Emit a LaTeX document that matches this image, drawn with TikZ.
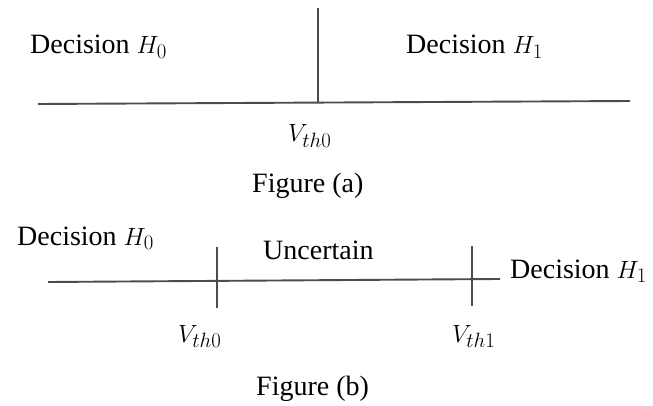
\documentclass[tikz,border=0pt]{standalone}
\usepackage{fontspec}
\setmainfont{Liberation Serif}
\usetikzlibrary{positioning}
\tikzset{
  axisline/.style={line width=1.9pt, black!70},
  lbl/.style={inner sep=0pt, anchor=base west, font=\fontsize{28}{32}\selectfont}
}

\begin{document}
\begin{tikzpicture}[x=1pt,y=-1pt]
            \useasboundingbox (0,0) rectangle (653,406);
            \coordinate (La) at (38,104);
            \coordinate (Ra) at (630,101);
            \coordinate (Ta) at (318,8);
            \coordinate (Xa) at (318,102.4);
            \draw[axisline] (La) -- (Ra);
            \draw[axisline] (Ta) -- (Xa);
            \node[lbl] (dec0a) at (30,54) {Decision $H_0$};
            \node[lbl] (dec1a) at (406,54) {Decision $H_1$};
            \node[lbl] (vth0a) at (288,142) {$V_{th0}$};
            \node[lbl] (figa) at (252,193) {Figure (a)};
            \coordinate (Lb) at (48,282);
            \coordinate (Rb) at (500,279);
            \coordinate (T0top) at (217,247);
            \coordinate (T0bot) at (217,308);
            \coordinate (T1top) at (472,246);
            \coordinate (T1bot) at (472,306);
            \draw[axisline] (Lb) -- (Rb);
            \draw[axisline] (T0top) -- (T0bot);
            \draw[axisline] (T1top) -- (T1bot);
            \node[lbl] (dec0b) at (17,245) {Decision $H_0$};
            \node[lbl] (unc) at (263,259) {Uncertain};
            \node[lbl] (dec1b) at (510,278) {Decision $H_1$};
            \node[lbl] (vth0b) at (178,342) {$V_{th0}$};
            \node[lbl] (vth1b) at (452,342) {$V_{th1}$};
            \node[lbl] (figb) at (256,395) {Figure (b)};
        \end{tikzpicture}
\end{document}
